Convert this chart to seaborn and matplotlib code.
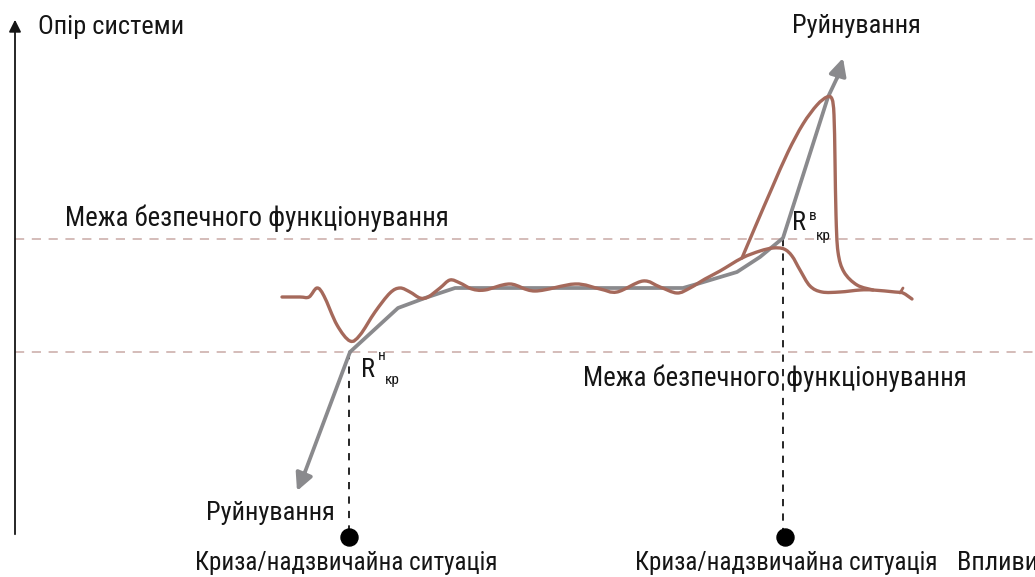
import numpy as np
import matplotlib.pyplot as plt
import seaborn as sns
from matplotlib.path import Path
from matplotlib.patches import PathPatch

sns.set_theme(style="white")
plt.rcParams['font.family'] = ['Roboto Condensed', 'Liberation Sans Narrow', 'DejaVu Sans']

# picture coordinates (x to the right, y downwards)
# grey "model" line: lower crisis point -> plateau -> upper crisis point -> breakdown
model_x = [350, 398, 425, 455, 683, 697, 737, 760, 783, 828, 837]
model_y = [352, 308, 298, 288, 288, 284, 272, 257, 238, 97, 78]
model_tip = (843, 58)
down_x = [350, 305]
down_y = [352, 472]
down_tip = (297, 491)

# brown "real" response, main branch
resp_x = [282, 300, 309, 317, 324, 337, 350, 360, 375, 390, 400, 410, 420, 428, 440,
          450, 460, 472, 485, 510, 535, 575, 600, 617, 643, 660, 677, 690, 705, 720,
          742, 760, 773, 784, 792, 800, 810, 822, 840, 860, 873, 895, 903, 912]
resp_y = [297, 297, 297, 288, 296, 325, 341, 335, 312, 293, 288, 292, 298, 297, 288,
          280, 283, 289, 290, 284, 291, 284, 289, 292, 281, 287, 293, 288, 279, 271,
          258, 251, 248, 249, 256, 270, 286, 292, 292, 290, 290, 292, 293, 299]
# brown overshoot branch
peak_x = [742, 756, 772, 788, 803, 817, 827, 832, 834, 835, 836, 838, 844, 857, 873]
peak_y = [258, 225, 188, 152, 124, 105, 97, 99, 115, 160, 215, 252, 272, 285, 290]
hook_x = [900, 903]
hook_y = [293, 288]

limit_upper = 239
limit_lower = 352
crisis_x = [349, 785]
axis_y = 537
axis_x = 15

grey = '#8a8a8d'
brown = '#a5695b'
dash_col = '#c9a9a5'
ink = '#151515'


def smooth_path(xs, ys):
    # Catmull-Rom through the read points, drawn as cubic Bezier segments
    p = np.column_stack([xs, ys]).astype(float)
    verts = [p[0]]
    codes = [Path.MOVETO]
    n = len(p)
    for i in range(n - 1):
        p0 = p[i - 1] if i > 0 else p[i]
        p1, p2 = p[i], p[i + 1]
        p3 = p[i + 2] if i + 2 < n else p[i + 1]
        verts += [p1 + (p2 - p0) / 6, p2 - (p3 - p1) / 6, p2]
        codes += [Path.CURVE4] * 3
    return Path(verts, codes)


fig = plt.figure(figsize=(10.35, 5.77), dpi=100)
ax = fig.add_axes([0, 0, 1, 1])
ax.set_xlim(0, 1035)
ax.set_ylim(577, 0)
ax.axis('off')

# safe operation limits
for yy in [limit_upper, limit_lower]:
    ax.plot([axis_x, 1035], [yy, yy], color=dash_col, lw=1.1, ls=(0, (6, 5)), zorder=1)

# crisis verticals
ax.plot([crisis_x[0], crisis_x[0]], [limit_lower, axis_y], color=ink, lw=1.3,
        ls=(0, (4, 4)), zorder=1)
ax.plot([783, 783], [limit_upper, axis_y], color=ink, lw=1.3, ls=(0, (4, 4)), zorder=1)

# axes with arrows
ax.annotate('', xy=(axis_x, 17), xytext=(axis_x, axis_y),
            arrowprops=dict(arrowstyle='-|>', color=ink, lw=1.3, mutation_scale=18))
ax.annotate('', xy=(1036, axis_y), xytext=(axis_x, axis_y),
            arrowprops=dict(arrowstyle='-|>', color=ink, lw=1.3, mutation_scale=18))

# grey model line
sns.lineplot(x=model_x, y=model_y, sort=False, estimator=None, color=grey, lw=2.7, ax=ax)
sns.lineplot(x=down_x, y=down_y, sort=False, estimator=None, color=grey, lw=2.7, ax=ax)
ax.annotate('', xy=model_tip, xytext=(model_x[-1], model_y[-1]),
            arrowprops=dict(arrowstyle='-|>', color=grey, lw=2.7, mutation_scale=26,
                            shrinkA=0, shrinkB=0))
ax.annotate('', xy=down_tip, xytext=(down_x[-1], down_y[-1]),
            arrowprops=dict(arrowstyle='-|>', color=grey, lw=2.7, mutation_scale=26,
                            shrinkA=0, shrinkB=0))

# brown response
for xs, ys in [(resp_x, resp_y), (peak_x, peak_y)]:
    ax.add_patch(PathPatch(smooth_path(xs, ys), fill=False, edgecolor=brown, lw=2.4,
                           capstyle='round', joinstyle='round', zorder=3))
sns.lineplot(x=hook_x, y=hook_y, sort=False, estimator=None, color=brown, lw=2.0, ax=ax)

# crisis points
ax.scatter(crisis_x, [axis_y, axis_y], s=150, color='black', zorder=5)

fs = 19
ax.text(38, 27, 'Опір системи', fontsize=fs, color=ink, va='center', ha='left')
ax.text(856, 26, 'Руйнування', fontsize=fs, color=ink, va='center', ha='center')
ax.text(335, 513, 'Руйнування', fontsize=fs, color=ink, va='center', ha='right')
ax.text(65, 218, 'Межа безпечного функціонування', fontsize=19.4, color=ink,
        va='center', ha='left')
ax.text(583, 378, 'Межа безпечного функціонування', fontsize=19.4, color=ink,
        va='center', ha='left')
ax.text(346, 563, 'Криза/надзвичайна ситуація', fontsize=18, color=ink,
        va='center', ha='center')
ax.text(786, 563, 'Криза/надзвичайна ситуація', fontsize=18, color=ink,
        va='center', ha='center')
ax.text(957, 563, 'Впливи', fontsize=fs, color=ink, va='center', ha='left')

# critical resistance labels
ax.text(361, 370, 'R', fontsize=fs, color=ink, va='center', ha='left')
ax.text(377.5, 356, 'н', fontsize=11, color=ink, va='center', ha='left')
ax.text(385, 380, 'кр', fontsize=11, color=ink, va='center', ha='left')
ax.text(792, 223, 'R', fontsize=fs, color=ink, va='center', ha='left')
ax.text(808.5, 216, 'в', fontsize=11, color=ink, va='center', ha='left')
ax.text(816, 236, 'кр', fontsize=11, color=ink, va='center', ha='left')

fig.savefig('out.png', dpi=100)
